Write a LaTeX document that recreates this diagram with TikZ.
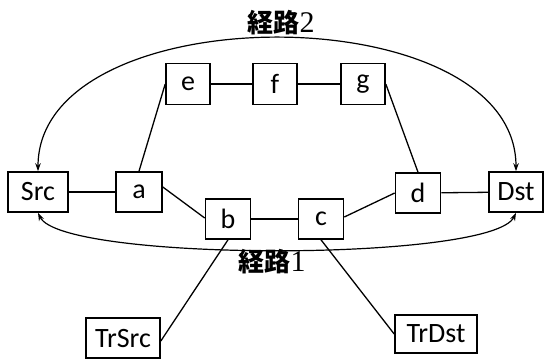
\documentclass[tikz,border=0pt]{standalone}
\usepackage{fontspec}
\setmainfont{Carlito}
\newfontfamily\jpfont{Noto Sans CJK JP}
\newfontfamily\numfont{Liberation Serif}
\usetikzlibrary{arrows.meta}

\begin{document}
\begin{tikzpicture}[x=1pt,y=-1pt,
  box/.style={draw, line width=1.6pt, inner sep=0pt,
    font=\fontsize{28}{28}\selectfont, minimum height=40pt},
  link/.style={line width=1.3pt},
  route/.style={line width=1.2pt,
    {Stealth[length=8pt,width=5.5pt]}-{Stealth[length=8pt,width=5.5pt]}},
  lbl/.style={inner sep=0pt, font=\fontsize{26}{26}\selectfont}
]
\useasboundingbox (0,0) rectangle (545,360);

% main row
\node[box, minimum width=60pt] (src) at (38,192) {Src};
\node[box, minimum width=46pt] (a)   at (139,192) {a};
\node[box, minimum width=45pt] (b)   at (228,219) {b};
\node[box, minimum width=45pt] (c)   at (321,219) {c};
\node[box, minimum width=45pt] (d)   at (418,193) {d};
\node[box, minimum width=54pt] (dst) at (516,192) {Dst};

% upper detour
\node[box, minimum width=44pt, minimum height=41pt] (e) at (188,84) {e};
\node[box, minimum width=44pt, minimum height=41pt] (f) at (275,84) {f};
\node[box, minimum width=44pt, minimum height=41pt] (g) at (363,84) {g};

% traffic endpoints
\node[box, minimum width=74pt] (trsrc) at (123,338) {TrSrc};
\node[box, minimum width=82pt, minimum height=38pt] (trdst) at (436,334) {TrDst};

% links
\draw[link] (src) -- (a);
\draw[link] ([yshift=5pt]a.east) -- ([yshift=1pt]b.west);
\draw[link] (b) -- (c);
\draw[link] ([yshift=2pt]c.east) -- (d.west);
\draw[link] (d) -- (dst);
\draw[link] (a.north) -- (e.west);
\draw[link] (e) -- (f);
\draw[link] (f) -- (g);
\draw[link] (g.east) -- (d.north);
\draw[link] (b.south) -- ([yshift=-3pt]trsrc.east);
\draw[link] (c.south) -- (trdst.west);

% routes
\draw[route] (src.north) .. controls (38,-6) and (516,-6) .. (dst.north);
\draw[route] (src.south) .. controls (62,262) and (492,262) .. (dst.south);

\node[lbl] (r2) at (281,23) {{\jpfont\bfseries 経路}{\numfont\fontsize{30}{30}\selectfont 2}};
\node[lbl] (r1) at (272,262) {{\jpfont\bfseries 経路}{\numfont\fontsize{30}{30}\selectfont 1}};
\end{tikzpicture}
\end{document}
